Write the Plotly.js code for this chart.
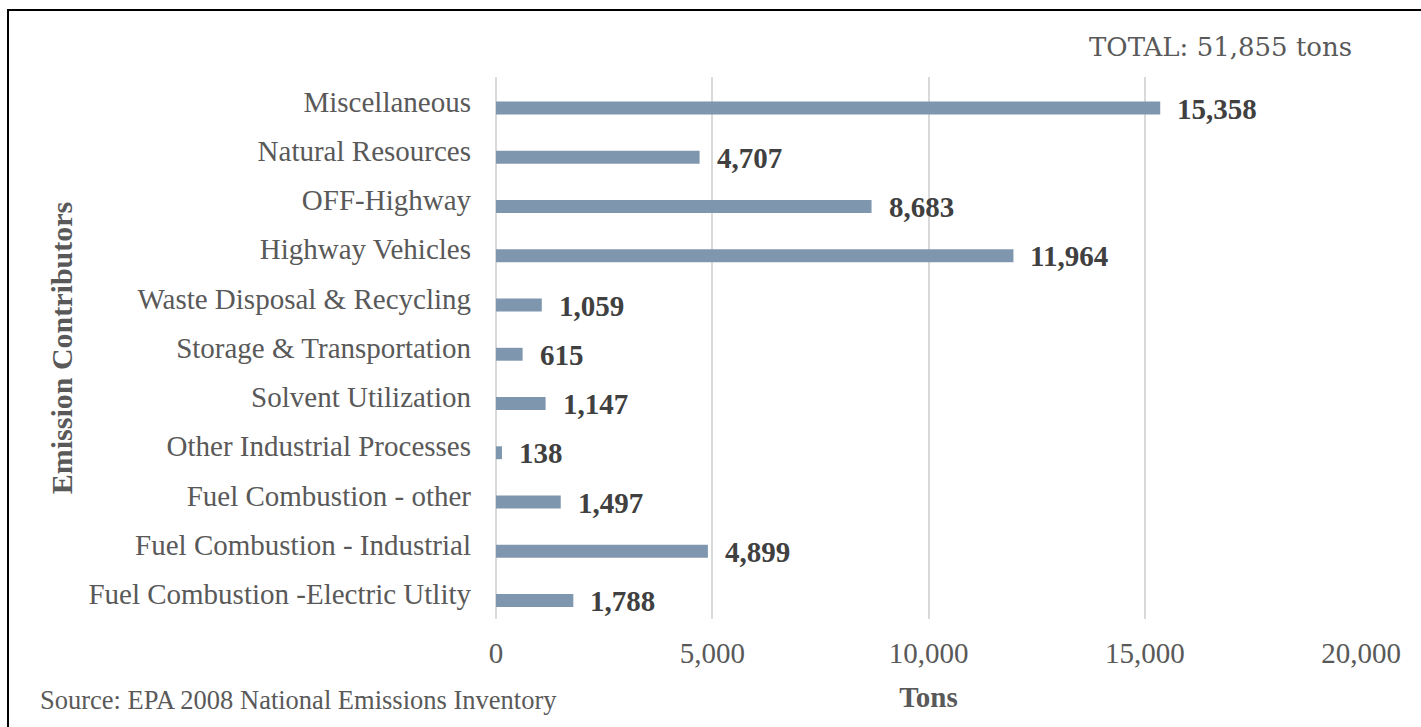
<!DOCTYPE html>
<html>
<head>
<meta charset="utf-8">
<script src="https://cdn.plot.ly/plotly-3.0.1.min.js"></script>
<style>
  html, body { margin: 0; padding: 0; background: #fff; overflow: hidden; }
  #chart { width: 1421px; height: 727px; }
  #frame { position: absolute; left: 7px; top: 9px; width: 1500px; height: 800px;
           border: 2px solid #000; pointer-events: none; }
</style>
</head>
<body>
<div id="chart"></div>
<div id="frame"></div>
<script>
// Categories listed bottom to top
const categories = [
  "Fuel Combustion -Electric Utlity",
  "Fuel Combustion - Industrial",
  "Fuel Combustion - other",
  "Other Industrial Processes",
  "Solvent Utilization",
  "Storage & Transportation",
  "Waste Disposal & Recycling",
  "Highway Vehicles",
  "OFF-Highway",
  "Natural Resources",
  "Miscellaneous"
];
const tons = [1788, 4899, 1497, 138, 1147, 615, 1059, 11964, 8683, 4707, 15358];
const xTicks = [0, 5000, 10000, 15000, 20000];
const totalLabel = "TOTAL: 51,855 tons";
const sourceLabel = "Source: EPA 2008 National Emissions Inventory";
const xTitle = "Tons";
const yTitle = "Emission Contributors";

const serif = "Liberation Serif, Times New Roman, serif";
const fmt = v => v.toLocaleString("en-US");

const trace = {
  type: "bar",
  orientation: "h",
  x: tons,
  y: categories,
  width: 0.262,
  offset: -0.262,
  marker: { color: "#7f97ae", line: { width: 0 } },
  hoverinfo: "skip"
};

const dataLabels = tons.map((v, i) => ({
  x: v, y: categories[i], xref: "x", yref: "y",
  text: fmt(v), showarrow: false,
  xanchor: "left", yanchor: "middle",
  xshift: 15, yshift: -7,
  font: { family: serif, size: 29, color: "#404040", weight: "bold" }
}));

const layout = {
  width: 1421, height: 727,
  margin: { l: 496, r: 60, t: 77, b: 108, autoexpand: false },
  paper_bgcolor: "#ffffff",
  plot_bgcolor: "#ffffff",
  showlegend: false,
  font: { family: serif, color: "#595959", size: 29 },
  xaxis: {
    range: [0, 20000],
    tickvals: xTicks,
    ticktext: xTicks.map(fmt),
    ticks: "",
    ticklabelstandoff: 14,
    showgrid: true, gridcolor: "#d9d9d9", gridwidth: 2,
    zeroline: true, zerolinecolor: "#d9d9d9", zerolinewidth: 2,
    showline: false,
    tickfont: { family: serif, size: 29, color: "#595959" },
    title: { text: xTitle, standoff: 18,
             font: { family: serif, size: 29, color: "#595959", weight: "bold" } },
    automargin: false, fixedrange: true
  },
  yaxis: {
    type: "category",
    categoryorder: "array",
    categoryarray: categories,
    ticks: "",
    ticklabelstandoff: 24,
    showgrid: false, zeroline: false, showline: false,
    tickfont: { family: serif, size: 29, color: "#595959" },
    title: { text: yTitle, standoff: 6,
             font: { family: serif, size: 30, color: "#595959", weight: "bold" } },
    automargin: false, fixedrange: true
  },
  annotations: dataLabels.concat([
    { xref: "paper", yref: "paper", x: (1354 - 496) / 865, y: (619 - 47) / 542,
      xanchor: "right", yanchor: "middle", showarrow: false, text: totalLabel,
      font: { family: "DejaVu Serif, serif", size: 26, color: "#595959" } },
    { xref: "paper", yref: "paper", x: (38 - 496) / 865, y: (619 - 700) / 542,
      xanchor: "left", yanchor: "middle", showarrow: false, text: sourceLabel,
      font: { family: serif, size: 26.5, color: "#595959" } }
  ])
};

Plotly.newPlot("chart", [trace], layout, { displayModeBar: false, staticPlot: true });
</script>
</body>
</html>
